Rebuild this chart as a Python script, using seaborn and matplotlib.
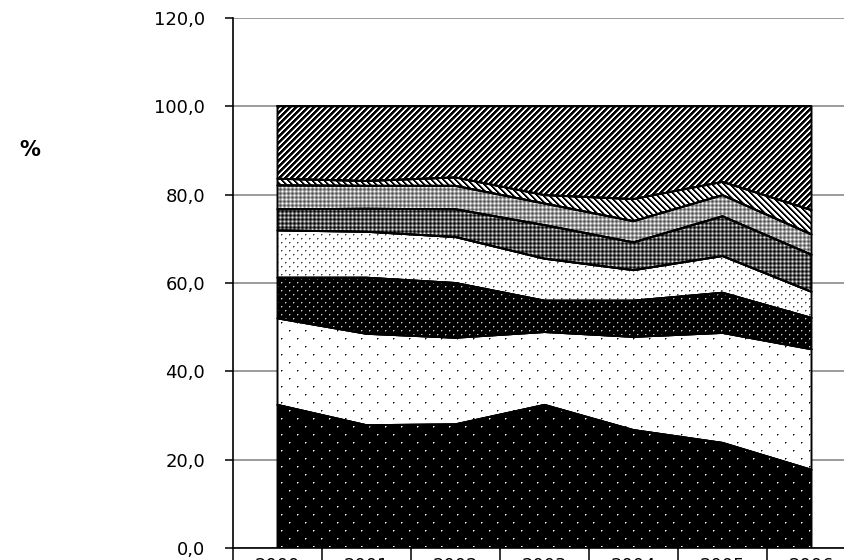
import numpy as np
import pandas as pd
import matplotlib
matplotlib.use("Agg")
import matplotlib.pyplot as plt
import seaborn as sns

# ---------------- data (shares in %) ----------------
years = ["2000", "2001", "2002", "2003", "2004", "2005", "2006"]
series_1 = [32.4, 27.8, 28.0, 32.4, 26.7, 23.8, 17.7]
series_2 = [19.6, 20.7, 19.6, 16.5, 21.1, 24.9, 27.3]
series_3 = [9.2, 12.7, 12.4, 7.1, 8.2, 9.1, 7.1]
series_4 = [10.7, 10.4, 10.4, 9.5, 6.9, 8.3, 5.9]
series_5 = [4.8, 5.2, 6.3, 7.6, 6.3, 9.0, 8.4]
series_6 = [5.4, 5.2, 5.3, 4.9, 4.8, 4.8, 4.6]
series_7 = [1.5, 1.1, 1.9, 1.9, 5.0, 3.0, 5.5]
series_8 = [16.4, 16.9, 16.1, 20.1, 21.0, 17.1, 23.5]
y_ticks = [0, 20, 40, 60, 80, 100, 120]
y_tick_labels = ["0,0", "20,0", "40,0", "60,0", "80,0", "100,0", "120,0"]
y_title = "%"

series = [series_1, series_2, series_3, series_4,
          series_5, series_6, series_7, series_8]

# ---------------- style ----------------
sns.set_theme(style="white")
plt.rcParams["font.family"] = ["DejaVu Sans"]

W, H = 845, 560
fig = plt.figure(figsize=(W / 100, H / 100), dpi=100)
ax = fig.add_axes([233 / W, 12 / H, 623 / W, 530 / H])

x = np.arange(len(years))
ax.set_xlim(-0.5, len(years) - 0.5)
ax.set_ylim(0, 120)

# ---------------- texture tiles (grey levels, 1 = white) ----------------
def dots(size, step, bg, fg, mid):
    t = np.full((size, size), bg, float)
    for (r, c) in [(0, 0), (step, step)]:
        t[r, c] = fg
        t[r, (c + 1) % size] = mid
        t[(r + 1) % size, c] = mid
    return t

def stripes(period, black, sign, edge):
    t = np.ones((period, period))
    for r in range(period):
        for c in range(period):
            k = (c + sign * r) % period
            if k < black:
                t[r, c] = 0.0
            elif k == black:
                t[r, c] = edge
    return t

tiles = [
    dots(16, 8, 0.0, 1.0, 0.55),          # black, white sparse dots
    dots(16, 8, 1.0, 0.0, 0.5),           # white, black sparse dots
    dots(8, 4, 0.0, 0.8, 0.35),           # black, dense light dots
    dots(8, 4, 1.0, 0.25, 0.6),           # white, dense grey dots
    np.array([[0.35, 0.15, 0.35, 0.6],
              [0.15, 0.0, 0.15, 0.35],
              [0.35, 0.15, 0.35, 0.6],
              [0.6, 0.35, 0.6, 0.9]]),    # dark grey check
    np.array([[0.6, 0.8, 0.6, 0.45],
              [0.8, 1.0, 0.8, 0.6],
              [0.6, 0.8, 0.6, 0.45],
              [0.45, 0.6, 0.45, 0.3]]),   # light grey check
    stripes(6, 2, -1, 0.5),               # "\" stripes on white
    stripes(6, 3, 1, 0.35),               # "/" dense stripes
]

bb = ax.get_window_extent()
pw, ph = int(round(bb.width)), int(round(bb.height))

def texture(tile):
    t = np.asarray(tile, float)
    reps = (ph // t.shape[0] + 2, pw // t.shape[1] + 2)
    return np.tile(t, reps)[:ph, :pw]

# ---------------- stacked areas ----------------
lower = np.zeros(len(years))
rows = []
for i, (vals, tile) in enumerate(zip(series, tiles)):
    upper = lower + np.array(vals)
    poly = ax.fill_between(x, lower, upper, facecolor="none",
                           edgecolor="black", linewidth=1.4, zorder=4)
    im = ax.imshow(texture(tile), cmap="gray", vmin=0, vmax=1,
                   extent=(-0.5, len(years) - 0.5, 0, 120),
                   aspect="auto", interpolation="nearest",
                   origin="upper", zorder=2)
    im.set_clip_path(poly.get_paths()[0], ax.transData)
    for xi, v in zip(x, upper):
        rows.append({"pos": xi, "top": v, "series": f"s{i + 1}"})
    lower = upper

df = pd.DataFrame(rows)
sns.lineplot(data=df, x="pos", y="top", hue="series",
             palette=["black"] * len(series), legend=False,
             linewidth=1.4, ax=ax, zorder=5)

ax.set_xlim(-0.5, len(years) - 0.5)
ax.set_ylim(0, 120)
ax.set_xlabel("")
ax.set_ylabel("")

# ---------------- axes, ticks, grid ----------------
ax.set_axisbelow(True)
ax.yaxis.grid(True, color="#808080", linewidth=1.1)
ax.xaxis.grid(False)

for s in ["top", "right"]:
    ax.spines[s].set_visible(False)
for s in ["left", "bottom"]:
    ax.spines[s].set_color("black")
    ax.spines[s].set_linewidth(1.2)

ax.set_yticks(y_ticks)
ax.set_yticklabels(y_tick_labels)
ax.set_xticks(x)
ax.set_xticklabels(years)
ax.set_xticks(np.arange(-0.5, len(years), 1.0), minor=True)

ax.tick_params(axis="y", which="major", left=True, length=6, width=1.1,
               direction="out", pad=14, labelsize=13, color="black",
               labelcolor="black")
ax.tick_params(axis="x", which="major", bottom=True, length=0, pad=6.5,
               labelsize=13, labelcolor="black")
ax.tick_params(axis="x", which="minor", bottom=True, length=22, width=1.1,
               direction="out", color="black")

fig.text(30 / W, 1 - 149.5 / H, y_title, ha="center", va="center",
         fontsize=15, fontweight="bold", color="black")

fig.savefig("out.png", dpi=100)
